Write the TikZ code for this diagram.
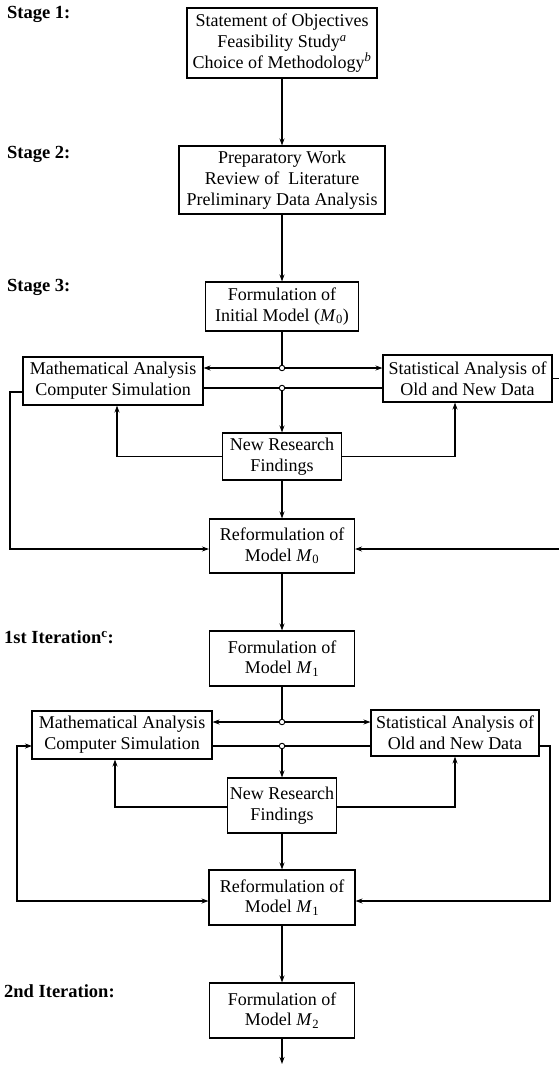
\documentclass[tikz,border=0pt]{standalone}
\usepackage{fontspec}
\setmainfont{Liberation Serif}
\usetikzlibrary{arrows.meta}
\begin{document}
\begin{tikzpicture}[x=1pt,y=-1pt,
  box/.style={draw, line width=1.1pt, inner sep=0pt, align=center, font=\fontsize{18}{20.8}\selectfont},
  lbl/.style={anchor=west, inner sep=0pt, font=\fontsize{18.5}{21}\selectfont\bfseries},
  conn/.style={line width=1.1pt},
  arr/.style={conn, -{Stealth[length=7pt,width=5pt]}},
  arrtwo/.style={conn, {Stealth[length=7pt,width=5pt]}-{Stealth[length=7pt,width=5pt]}},
  jn/.style={circle, draw, fill=white, line width=0.9pt, minimum size=5.5pt, inner sep=0pt}]
\useasboundingbox (0,0) rectangle (558,1065);

% stage labels
\node[lbl] (s1) at (7,14) {Stage 1:};
\node[lbl] (s2) at (7,154) {Stage 2:};
\node[lbl] (s3) at (7,287) {Stage 3:};
\node[lbl] (i1) at (4,637) {1st Iteration\textsuperscript{c}:};
\node[lbl] (i2) at (4,991) {2nd Iteration:};

% boxes
\node[box, minimum width=190pt, minimum height=70pt] (b1) at (282,43)
  {Statement of Objectives\\Feasibility Study\textsuperscript{\itshape a}\\Choice of Methodology\textsuperscript{\itshape b}};
\node[box, minimum width=206pt, minimum height=68pt] (b2) at (282,180)
  {Preparatory Work\\Review of\ \ Literature\\Preliminary Data Analysis};
\node[box, minimum width=153pt, minimum height=49pt] (b3) at (282,306.5)
  {Formulation of\\Initial Model (\textit{M}\textsubscript{0})};
\node[box, minimum width=180pt, minimum height=48pt] (ma0) at (113,381)
  {Mathematical Analysis\\Computer Simulation};
\node[box, minimum width=169pt, minimum height=47pt] (sa0) at (467.5,378.5)
  {Statistical Analysis of\\Old and New Data};
\node[box, minimum width=119pt, minimum height=47pt] (nrf0) at (282,456.5)
  {New Research\\Findings};
\node[box, minimum width=145pt, minimum height=54pt] (rf0) at (282,546)
  {Reformulation of\\Model \textit{M}\textsubscript{0}};
\node[box, minimum width=145pt, minimum height=55pt] (f1) at (282,658.5)
  {Formulation of\\Model \textit{M}\textsubscript{1}};
\node[box, minimum width=180pt, minimum height=48pt] (ma1) at (122,735)
  {Mathematical Analysis\\Computer Simulation};
\node[box, minimum width=168pt, minimum height=46pt] (sa1) at (455,733)
  {Statistical Analysis of\\Old and New Data};
\node[box, minimum width=109pt, minimum height=55pt] (nrf1) at (282,805.5)
  {New Research\\Findings};
\node[box, minimum width=146pt, minimum height=55pt] (rf1) at (282,897.5)
  {Reformulation of\\Model \textit{M}\textsubscript{1}};
\node[box, minimum width=145pt, minimum height=55pt] (f2) at (282,1010.5)
  {Formulation of\\Model \textit{M}\textsubscript{2}};

% junctions
\node[jn] (j1) at (282,368) {};
\node[jn] (j2) at (282,388) {};
\node[jn] (j3) at (282,722) {};
\node[jn] (j4) at (282,746) {};

% helper coordinates
\coordinate (nl0) at (117,456.5);
\coordinate (nr0) at (455,456.5);
\coordinate (ml0) at (23,392);
\coordinate (rl0) at (10,549);
\coordinate (rr0) at (580,549);
\coordinate (nl1) at (115,807);
\coordinate (nr1) at (455,807);
\coordinate (ml1) at (32,746);
\coordinate (rl1) at (17,901);
\coordinate (sr1) at (539,746);
\coordinate (rr1) at (550,901);
\coordinate (fin) at (282,1064);

% stage 1-3
\draw[arr] (b1) -- (b2);
\draw[arr] (b2) -- (b3);
\draw[conn] (b3) -- (j1);
\draw[arr] (j1) -- (j1 -| ma0.east);
\draw[arr] (j1) -- (j1 -| sa0.west);
\draw[conn] (j2 -| ma0.east) -- (j2) -- (j2 -| sa0.west);
\draw[arr] (j2) -- (nrf0);
\draw[arr] (nrf0.west) -| (nl0 |- ma0.south);
\draw[arr] (nrf0.east) -| (nr0 |- sa0.south);
\draw[arr] (nrf0) -- (rf0);
\draw[arr] (ml0) -| (rl0) -- (rl0 -| rf0.west);
\draw[arr] (sa0.east) -| (rr0) -- (rr0 -| rf0.east);
\draw[arr] (rf0) -- (f1);

% 1st iteration
\draw[conn] (f1) -- (j3);
\draw[arr] (j3) -- (j3 -| ma1.east);
\draw[arr] (j3) -- (j3 -| sa1.west);
\draw[conn] (j4 -| ma1.east) -- (j4) -- (j4 -| sa1.west);
\draw[arr] (j4) -- (nrf1);
\draw[arr] (nrf1.west |- nl1) -| (nl1 |- ma1.south);
\draw[arr] (nrf1.east |- nr1) -| (nr1 |- sa1.south);
\draw[arr] (nrf1) -- (rf1);
\draw[arrtwo] (ml1) -| (rl1) -- (rl1 -| rf1.west);
\draw[arr] (sr1) -| (rr1) -- (rr1 -| rf1.east);
\draw[arr] (rf1) -- (f2);
\draw[arr] (f2) -- (fin);
\end{tikzpicture}
\end{document}
